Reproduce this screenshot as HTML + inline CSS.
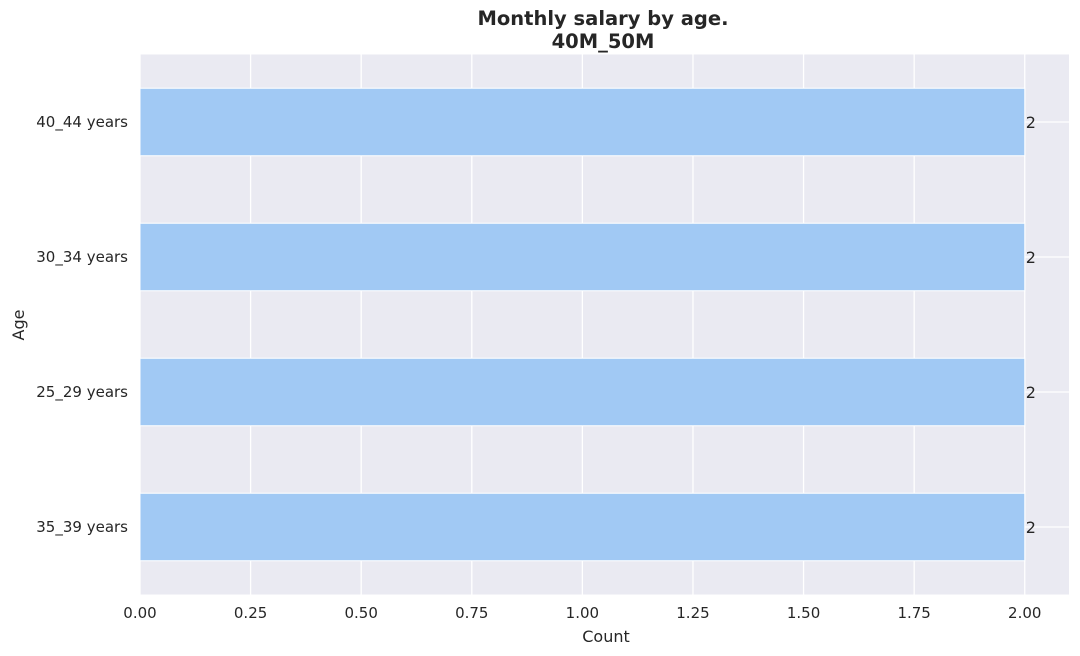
<!DOCTYPE html>
<html><head><meta charset="utf-8"><style>
body{margin:0;background:#fff;}
svg{display:block;font-family:"DejaVu Sans","Liberation Sans",sans-serif;}
</style></head><body>
<svg id="chart" width="1080" height="656">
<rect x="0" y="0" width="1080" height="656" fill="#fff"/>
<rect id="plot" x="140" y="54.5" width="929" height="540" fill="#eaeaf2"/>
<g id="grid"></g>
<g id="bars"></g>
<g id="ticks"></g>
<text x="603" y="25" text-anchor="middle" font-size="19.5" font-weight="bold" fill="#262626">Monthly salary by age.</text>
<text x="603" y="48" text-anchor="middle" font-size="19.5" font-weight="bold" fill="#262626">40M_50M</text>
<text x="606" y="642" text-anchor="middle" font-size="16" fill="#262626">Count</text>
<text x="0" y="0" transform="translate(24,325) rotate(-90)" text-anchor="middle" font-size="16" fill="#262626">Age</text>
</svg>
<script>
const categories = ["40_44 years","30_34 years","25_29 years","35_39 years"];
const values = [2,2,2,2];
const xTicks = [0,0.25,0.5,0.75,1.0,1.25,1.5,1.75,2.0];
const xTickLabels = ["0.00","0.25","0.50","0.75","1.00","1.25","1.50","1.75","2.00"];

const NS="http://www.w3.org/2000/svg";
const pLeft=140, pRight=1069, pTop=54.5, pBottom=594.5;
const xMax=2.1;
const xs=v=>pLeft+(v/xMax)*(pRight-pLeft);
const band=(pBottom-pTop)/categories.length;
const ys=i=>pTop+band*(i+0.5);
function mk(tag,attrs,parent){const e=document.createElementNS(NS,tag);for(const k in attrs)e.setAttribute(k,attrs[k]);parent.appendChild(e);return e;}
const grid=document.getElementById('grid'),bars=document.getElementById('bars'),ticks=document.getElementById('ticks');
xTicks.forEach((t,i)=>{
  const l=mk('line',{x1:xs(t),x2:xs(t),y1:pTop,y2:pBottom,stroke:'#fff','stroke-width':1.3},grid);
  
  
  const tx=mk('text',{x:xs(t),y:618,'text-anchor':'middle','font-size':15,fill:'#262626'},ticks);
  tx.textContent=xTickLabels[i];
  
  
});
categories.forEach((c,i)=>{
  const l=mk('line',{x1:pLeft,x2:pRight,y1:ys(i),y2:ys(i),stroke:'#fff','stroke-width':1.3},grid);
  
  
  const h=band*0.5;
  const r=mk('rect',{x:pLeft,y:ys(i)-h/2,width:xs(values[i])-pLeft,height:h,fill:'#a1c9f4',stroke:'#fff','stroke-width':1},bars);
  
  
  const v=mk('text',{x:xs(values[i])+1,y:ys(i)+6,'font-size':16,fill:'#262626'},bars);
  v.textContent=values[i];
  
  
  const tl=mk('text',{x:128,y:ys(i)+5,'text-anchor':'end','font-size':15,fill:'#262626'},ticks);
  tl.textContent=c;
  
  
});
</script>
</body></html>
